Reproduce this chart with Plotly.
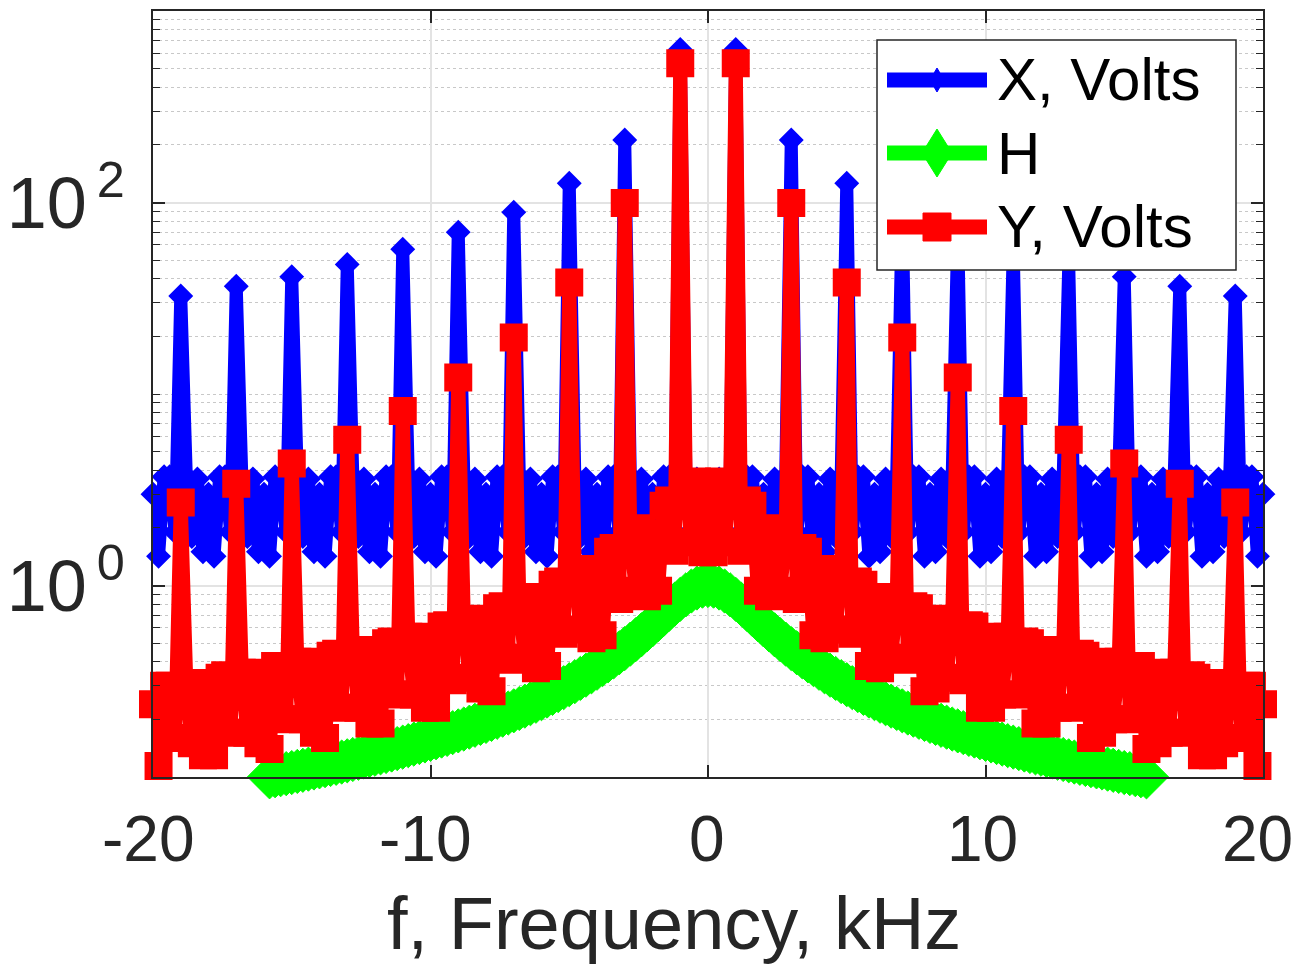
import plotly.graph_objects as go

# frequency grid (kHz)
freq = [round(-20 + 0.2 * i, 1) for i in range(201)]
freq_h = [round(-15.8 + 0.2 * i, 1) for i in range(159)]

# |X| (Volts)
X_volts = [
    3.0, 1.42, 3.7, 3.7, 1.9, 32.5, 3.7, 1.8, 3.6, 1.5,
    3.0, 1.42, 3.7, 3.7, 1.9, 36.5, 3.7, 1.8, 3.6, 1.5,
    3.0, 1.42, 3.7, 3.7, 1.9, 41, 3.7, 1.8, 3.6, 1.5,
    3.0, 1.42, 3.7, 3.7, 1.9, 47.5, 3.7, 1.8, 3.6, 1.5,
    3.0, 1.42, 3.7, 3.7, 1.9, 57, 3.7, 1.8, 3.6, 1.5,
    3.0, 1.42, 3.7, 3.7, 1.9, 70, 3.7, 1.8, 3.6, 1.5,
    3.0, 1.42, 3.7, 3.7, 1.9, 89, 3.7, 1.8, 3.6, 1.5,
    3.0, 1.42, 3.7, 3.7, 1.9, 126, 3.7, 1.8, 3.6, 1.5,
    3.0, 1.42, 3.7, 3.7, 1.9, 212, 3.7, 1.8, 3.6, 1.5,
    3.0, 1.42, 3.7, 3.7, 1.9, 630, 3.7, 1.8, 3.6, 1.5,
    3.0,
    1.5, 3.6, 1.8, 3.7, 630, 1.9, 3.7, 3.7, 1.42, 3.0,
    1.5, 3.6, 1.8, 3.7, 212, 1.9, 3.7, 3.7, 1.42, 3.0,
    1.5, 3.6, 1.8, 3.7, 126, 1.9, 3.7, 3.7, 1.42, 3.0,
    1.5, 3.6, 1.8, 3.7, 89, 1.9, 3.7, 3.7, 1.42, 3.0,
    1.5, 3.6, 1.8, 3.7, 70, 1.9, 3.7, 3.7, 1.42, 3.0,
    1.5, 3.6, 1.8, 3.7, 57, 1.9, 3.7, 3.7, 1.42, 3.0,
    1.5, 3.6, 1.8, 3.7, 47.5, 1.9, 3.7, 3.7, 1.42, 3.0,
    1.5, 3.6, 1.8, 3.7, 41, 1.9, 3.7, 3.7, 1.42, 3.0,
    1.5, 3.6, 1.8, 3.7, 36.5, 1.9, 3.7, 3.7, 1.42, 3.0,
    1.5, 3.6, 1.8, 3.7, 32.5, 1.9, 3.7, 3.7, 1.42, 3.0,
]

# |H| (filter magnitude), f = -15.8 .. 15.8
H_mag = [
    0.1002, 0.1015, 0.1028, 0.1041, 0.1055, 0.1069, 0.1084, 0.1099, 0.1114, 0.1130,
    0.1146, 0.1162, 0.1179, 0.1197, 0.1215, 0.1234, 0.1253, 0.1273, 0.1294, 0.1315,
    0.1337, 0.1359, 0.1383, 0.1407, 0.1432, 0.1458, 0.1485, 0.1513, 0.1542, 0.1572,
    0.1603, 0.1636, 0.1669, 0.1705, 0.1741, 0.1780, 0.1820, 0.1862, 0.1905, 0.1951,
    0.1999, 0.2050, 0.2103, 0.2158, 0.2217, 0.2279, 0.2344, 0.2413, 0.2486, 0.2564,
    0.2646, 0.2734, 0.2827, 0.2927, 0.3033, 0.3147, 0.3270, 0.3401, 0.3543, 0.3697,
    0.3863, 0.4043, 0.4239, 0.4453, 0.4686, 0.4941, 0.5221, 0.5527, 0.5861, 0.6227,
    0.6624, 0.7052, 0.7508, 0.7985, 0.8467, 0.8935, 0.9357, 0.9698, 0.9922,
    1.0,
    0.9922, 0.9698, 0.9357, 0.8935, 0.8467, 0.7985, 0.7508, 0.7052, 0.6624,
    0.6227, 0.5861, 0.5527, 0.5221, 0.4941, 0.4686, 0.4453, 0.4239, 0.4043, 0.3863,
    0.3697, 0.3543, 0.3401, 0.3270, 0.3147, 0.3033, 0.2927, 0.2827, 0.2734, 0.2646,
    0.2564, 0.2486, 0.2413, 0.2344, 0.2279, 0.2217, 0.2158, 0.2103, 0.2050, 0.1999,
    0.1951, 0.1905, 0.1862, 0.1820, 0.1780, 0.1741, 0.1705, 0.1669, 0.1636, 0.1603,
    0.1572, 0.1542, 0.1513, 0.1485, 0.1458, 0.1432, 0.1407, 0.1383, 0.1359, 0.1337,
    0.1315, 0.1294, 0.1273, 0.1253, 0.1234, 0.1215, 0.1197, 0.1179, 0.1162, 0.1146,
    0.1130, 0.1114, 0.1099, 0.1084, 0.1069, 0.1055, 0.1041, 0.1028, 0.1015, 0.1002,
]

# |Y| (Volts)
Y_volts = [
    0.24, 0.114, 0.30, 0.30, 0.16, 2.71, 0.31, 0.15, 0.31, 0.13,
    0.26, 0.13, 0.33, 0.34, 0.17, 3.40, 0.35, 0.17, 0.35, 0.15,
    0.30, 0.14, 0.38, 0.38, 0.20, 4.33, 0.40, 0.20, 0.40, 0.17,
    0.34, 0.16, 0.43, 0.44, 0.23, 5.77, 0.46, 0.23, 0.46, 0.19,
    0.39, 0.19, 0.50, 0.51, 0.27, 8.16, 0.54, 0.27, 0.54, 0.23,
    0.47, 0.23, 0.61, 0.62, 0.32, 12.2, 0.66, 0.33, 0.67, 0.29,
    0.59, 0.28, 0.76, 0.78, 0.41, 19.7, 0.84, 0.42, 0.87, 0.37,
    0.77, 0.38, 1.01, 1.05, 0.56, 38.2, 1.16, 0.59, 1.22, 0.53,
    1.11, 0.55, 1.50, 1.57, 0.85, 99.3, 1.83, 0.94, 1.99, 0.88,
    1.87, 0.94, 2.61, 2.78, 1.52, 533, 3.31, 1.68, 3.49, 1.49,
    3.0,
    1.49, 3.49, 1.68, 3.31, 533, 1.52, 2.78, 2.61, 0.94, 1.87,
    0.88, 1.99, 0.94, 1.83, 99.3, 0.85, 1.57, 1.50, 0.55, 1.11,
    0.53, 1.22, 0.59, 1.16, 38.2, 0.56, 1.05, 1.01, 0.38, 0.77,
    0.37, 0.87, 0.42, 0.84, 19.7, 0.41, 0.78, 0.76, 0.28, 0.59,
    0.29, 0.67, 0.33, 0.66, 12.2, 0.32, 0.62, 0.61, 0.23, 0.47,
    0.23, 0.54, 0.27, 0.54, 8.16, 0.27, 0.51, 0.50, 0.19, 0.39,
    0.19, 0.46, 0.23, 0.46, 5.77, 0.23, 0.44, 0.43, 0.16, 0.34,
    0.17, 0.40, 0.20, 0.40, 4.33, 0.20, 0.38, 0.38, 0.14, 0.30,
    0.15, 0.35, 0.17, 0.35, 3.40, 0.17, 0.34, 0.33, 0.13, 0.26,
    0.13, 0.31, 0.15, 0.31, 2.71, 0.16, 0.30, 0.30, 0.114, 0.24,
]

series_names = ["X, Volts", "H", "Y, Volts"]
series_colors = ["#0000ff", "#00ff00", "#ff0000"]

y_tickvals = [1, 100]
y_ticktext = ["10<sup>\u20090</sup>", "10<sup>\u20092</sup>"]
x_tickvals = [-20, -10, 0, 10, 20]
x_ticktext = ["-20", "-10", "0", "10", "20"]
x_label_shift = [-5, -5, -1, -3, -6]   # MATLAB-like label offsets (px)
x_title = "f, Frequency, kHz"

FONT = "Liberation Sans, Arial, sans-serif"
AX = "#262626"

# plot-area geometry in pixels
W, Hh = 1296, 967
L, R, T, B = 153, 33, 11, 190
PX0, PX1, PY0, PY1 = L, W - R, T, Hh - B


def px(x):
    return (x - PX0) / (PX1 - PX0)


def py(y):
    return (PY1 - y) / (PY1 - PY0)


fig = go.Figure()
fig.add_trace(go.Scatter(
    x=freq, y=X_volts, name=series_names[0], mode="lines+markers",
    line=dict(color=series_colors[0], width=13),
    marker=dict(symbol="diamond", size=17, color=series_colors[0],
                line=dict(color=series_colors[0], width=2)),
    cliponaxis=False, showlegend=False,
))
fig.add_trace(go.Scatter(
    x=freq_h, y=H_mag, name=series_names[1], mode="lines+markers",
    line=dict(color=series_colors[1], width=13),
    marker=dict(symbol="diamond", size=34, color=series_colors[1],
                line=dict(color=series_colors[1], width=1)),
    cliponaxis=False, showlegend=False,
))
fig.add_trace(go.Scatter(
    x=freq, y=Y_volts, name=series_names[2], mode="lines+markers",
    line=dict(color=series_colors[2], width=14),
    marker=dict(symbol="square", size=26, color=series_colors[2],
                line=dict(color=series_colors[2], width=2)),
    cliponaxis=False, showlegend=False,
))

# ---- legend box drawn by hand (MATLAB-style long samples) ----
shapes = []
annotations = []
bx0, bx1, by0, by1 = 877, 1236, 40, 270
shapes.append(dict(type="rect", xref="paper", yref="paper",
                   x0=px(bx0), x1=px(bx1), y0=py(by1), y1=py(by0),
                   fillcolor="white", line=dict(color=AX, width=1.5), layer="above"))
rows = [80, 153, 227]
lx0, lx1, lxc = 887, 987, 937
for k, (name, col, ry) in enumerate(zip(series_names, series_colors, rows)):
    shapes.append(dict(type="line", xref="paper", yref="paper",
                       x0=px(lx0), x1=px(lx1), y0=py(ry), y1=py(ry),
                       line=dict(color=col, width=15), layer="above"))
    if k == 0:
        hw, hh = 7, 12
        path = (f"M{px(lxc)},{py(ry - hh)} L{px(lxc + hw)},{py(ry)} "
                f"L{px(lxc)},{py(ry + hh)} L{px(lxc - hw)},{py(ry)} Z")
    elif k == 1:
        hw, hh = 15, 24
        path = (f"M{px(lxc)},{py(ry - hh)} L{px(lxc + hw)},{py(ry)} "
                f"L{px(lxc)},{py(ry + hh)} L{px(lxc - hw)},{py(ry)} Z")
    else:
        hs = 14
        path = (f"M{px(lxc - hs)},{py(ry - hs)} L{px(lxc + hs)},{py(ry - hs)} "
                f"L{px(lxc + hs)},{py(ry + hs)} L{px(lxc - hs)},{py(ry + hs)} Z")
    shapes.append(dict(type="path", xref="paper", yref="paper", path=path,
                       fillcolor=col, line=dict(color=col, width=1), layer="above"))
    annotations.append(dict(x=px(995), y=py(ry), xref="paper", yref="paper",
                            text=name, showarrow=False, xanchor="left", yanchor="middle",
                            font=dict(size=60, color="black", family=FONT)))

# x tick labels, placed on the x axis scale
for v, t, s in zip(x_tickvals, x_ticktext, x_label_shift):
    annotations.append(dict(x=v, y=py(839), xref="x", yref="paper", text=t,
                            showarrow=False, xanchor="center", yanchor="middle",
                            xshift=s, font=dict(size=64, color=AX, family=FONT)))

# x-axis title (MATLAB places it slightly left of the axis centre)
annotations.append(dict(x=px(674), y=py(923), xref="paper", yref="paper",
                        text=x_title, showarrow=False, xanchor="center", yanchor="middle",
                        font=dict(size=74, color=AX, family=FONT)))

fig.update_layout(
    width=W, height=Hh,
    margin=dict(l=L, r=R, t=T, b=B, autoexpand=False),
    paper_bgcolor="white", plot_bgcolor="white",
    font=dict(family=FONT, color=AX),
    showlegend=False,
    shapes=shapes,
    annotations=annotations,
    xaxis=dict(
        range=[-20, 20], tickvals=x_tickvals, showticklabels=False,
        ticks="inside", ticklen=12, tickwidth=1.5, tickcolor=AX,
        showline=True, linecolor=AX, linewidth=1.5, mirror="ticks",
        showgrid=True, gridcolor="#e3e3e3", gridwidth=1.5,
        zeroline=False, automargin=False,
    ),
    yaxis=dict(
        type="log", range=[-1, 3],
        tickvals=y_tickvals, ticktext=y_ticktext,
        ticks="inside", ticklen=12, tickwidth=1.5, tickcolor=AX,
        showline=True, linecolor=AX, linewidth=1.5, mirror="ticks",
        showgrid=True, gridcolor="#e3e3e3", gridwidth=1.5,
        zeroline=False, ticklabelstandoff=12, automargin=False,
        tickfont=dict(size=72, color=AX, family=FONT),
        minor=dict(
            tickvals=[0.2, 0.3, 0.4, 0.5, 0.6, 0.7, 0.8, 0.9,
                      2, 3, 4, 5, 6, 7, 8, 9, 10,
                      20, 30, 40, 50, 60, 70, 80, 90,
                      200, 300, 400, 500, 600, 700, 800, 900],
            ticks="inside", ticklen=7, tickwidth=1.2, tickcolor=AX,
            showgrid=True, gridcolor="#c8c8c8", griddash="dot", gridwidth=1.2,
        ),
    ),
)

fig.write_html("out.html")
